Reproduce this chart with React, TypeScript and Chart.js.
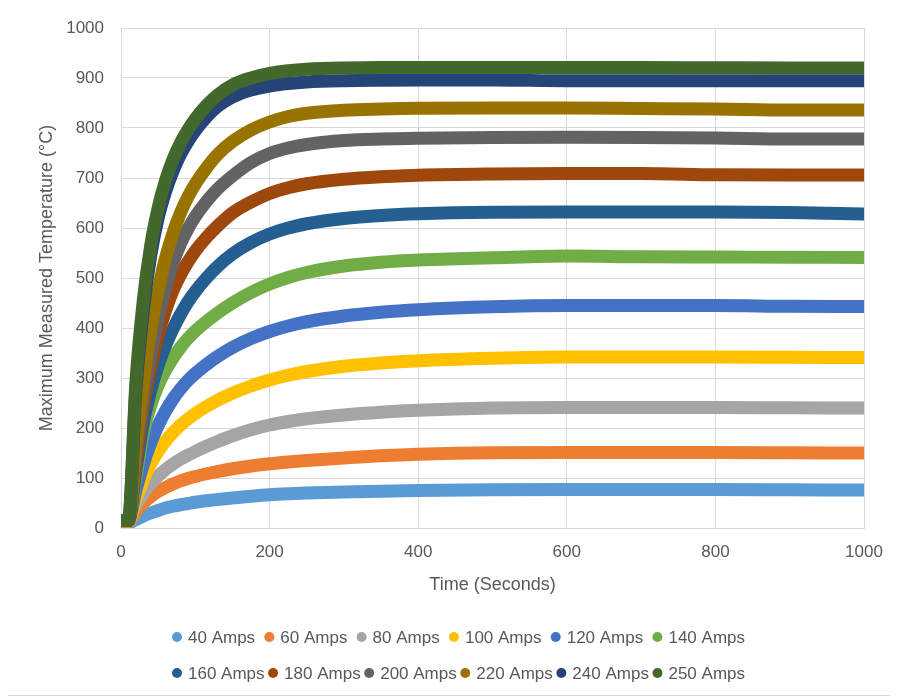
import React, { useEffect, useRef } from "react";
import { Chart, registerables } from "chart.js";

Chart.register(...registerables);

// ---- Data ----
const times = [0, 10, 20, 30, 40, 50, 60, 70, 80, 90, 100, 115, 130, 150, 175, 200, 225, 250, 300, 350, 400, 500, 600, 700, 800, 900, 1000];

const seriesLabels = ["40 Amps", "60 Amps", "80 Amps", "100 Amps", "120 Amps", "140 Amps", "160 Amps", "180 Amps", "200 Amps", "220 Amps", "240 Amps", "250 Amps"];

const amps40 = [10, 10, 17, 24, 30, 35, 40, 43.5, 46.5, 49, 51.5, 54.5, 57, 60, 63.5, 66.5, 68.5, 70, 72, 73.5, 75, 76.5, 77, 77, 77, 76.5, 76];
const amps60 = [12, 12, 32, 50, 63, 73, 81, 88, 94, 99, 103, 108.5, 113, 118.5, 124, 128.5, 132, 135, 140, 144.5, 147.5, 150.5, 151, 151, 151, 150.5, 150];
const amps80 = [15, 15, 45, 70, 89, 104, 117, 128, 137.5, 145.5, 153, 163.5, 173, 184.5, 196.5, 206, 213, 218.5, 226, 231.5, 235.5, 240, 241, 241, 241, 240.5, 240];
const amps100 = [15, 15, 57, 96, 128, 153, 174, 191, 205.5, 218, 229, 243, 255.5, 269.5, 284, 296, 305.5, 313, 323.5, 330, 334.5, 339.5, 342, 342, 342, 341.5, 341];
const amps120 = [15, 15, 75, 127, 170, 205, 234, 258, 278, 295, 309, 327, 343, 361, 379, 393, 404, 412.5, 424, 431.5, 436.5, 442.5, 445, 445, 445, 443.5, 443];
const amps140 = [15, 15, 100, 190, 245, 285, 315, 340, 361, 379, 394, 413, 430, 450, 471, 488, 501, 511, 524, 531.5, 536, 540.5, 544, 542.5, 542, 541.5, 541];
const amps160 = [15, 15, 115, 210, 275, 325, 365, 398, 427, 452, 473, 500, 523, 548, 571, 588, 600, 608.5, 619, 625, 628.5, 631.5, 632, 632, 632, 631, 628];
const amps180 = [15, 15, 130, 240, 320, 385, 435, 475, 506, 532, 554, 581, 604, 630, 652, 669, 680.5, 688.5, 697.5, 702.5, 705.5, 708, 709, 709, 706.5, 706, 706];
const amps200 = [15, 15, 145, 260, 345, 420, 480, 530, 568, 598, 623, 653, 678, 704, 731, 749, 760, 767, 775, 778, 779.5, 781, 781.5, 781, 780, 778, 778];
const amps220 = [15, 15, 165, 290, 395, 475, 540, 590, 630, 662, 688, 720, 747, 773, 796, 812, 823, 829.5, 835.5, 838, 839.5, 840, 840, 839, 838, 836, 836];
const amps240 = [15, 15, 275, 435, 545, 620, 673, 714, 747, 773, 795, 822, 843, 862, 876, 884, 889, 892, 894.5, 895.5, 896, 896, 894.5, 894.5, 894.5, 894.5, 894.5];
const amps250 = [15, 15, 290, 455, 565, 640, 695, 737, 770, 796, 818, 845, 866, 886, 900, 909, 914.5, 917.5, 920, 921, 921, 921, 921, 921, 920.5, 920, 920];

const seriesValues = [amps40, amps60, amps80, amps100, amps120, amps140, amps160, amps180, amps200, amps220, amps240, amps250];

const seriesColors = ["#5B9BD5", "#ED7D31", "#A5A5A5", "#FFC000", "#4472C4", "#70AD47", "#255E91", "#9E480E", "#636363", "#997300", "#264478", "#43682B"];

const xTickValues = [0, 200, 400, 600, 800, 1000];
const yTickValues = [0, 100, 200, 300, 400, 500, 600, 700, 800, 900, 1000];

const xTitle = "Time (Seconds)";
const yTitle = "Maximum Measured Temperature (°C)";

const FONT = "'Liberation Sans', Arial, sans-serif";
const TEXT = "#595959";
const GRID = "#d9d9d9";

const legendRows = [
  [0, 1, 2, 3, 4, 5],
  [6, 7, 8, 9, 10, 11],
];

const legendPlugin = {
  id: "excelLegend",
  afterDraw(chart: any) {
    const ctx = chart.ctx as CanvasRenderingContext2D;
    const left = 164;
    const right = 737;
    const rowY = [630, 666];
    const r = 5;
    ctx.save();
    ctx.font = `17px ${FONT}`;
    ctx.textBaseline = "middle";
    ctx.textAlign = "left";
    legendRows.forEach((row, ri) => {
      const widths = row.map((i) => 2 * r + 6 + ctx.measureText(seriesLabels[i]).width);
      const total = widths.reduce((a, b) => a + b, 0);
      const gap = (right - left - total) / (row.length - 1);
      let x = left;
      row.forEach((i, k) => {
        const y = rowY[ri];
        ctx.beginPath();
        ctx.arc(x + r, y, r, 0, Math.PI * 2);
        ctx.fillStyle = seriesColors[i];
        ctx.fill();
        ctx.fillStyle = TEXT;
        ctx.fillText(seriesLabels[i], x + 2 * r + 6, y + 1);
        x += widths[k] + gap;
      });
    });
    ctx.restore();
  },
};

export default function App() {
  const ref = useRef<HTMLCanvasElement | null>(null);

  useEffect(() => {
    if (!ref.current) return;
    const datasets = seriesLabels.map((label, i) => ({
      label,
      data: times.map((t, k) => ({ x: t, y: seriesValues[i][k] })),
      borderColor: seriesColors[i],
      backgroundColor: seriesColors[i],
      borderWidth: 13,
      borderCapStyle: "round" as const,
      borderJoinStyle: "round" as const,
      pointRadius: 0,
      pointHoverRadius: 0,
      showLine: true,
      cubicInterpolationMode: "monotone" as const,
      order: seriesLabels.length - i,
    }));

    const chart = new Chart(ref.current, {
      type: "scatter",
      data: { datasets },
      options: {
        animation: false,
        responsive: false,
        maintainAspectRatio: false,
        layout: { padding: { top: 21, right: 32, bottom: 87, left: 0 } },
        plugins: {
          legend: { display: false },
          tooltip: { enabled: false },
        },
        scales: {
          x: {
            type: "linear",
            min: 0,
            max: 1000,
            afterBuildTicks: (s: any) => {
              s.ticks = xTickValues.map((v) => ({ value: v }));
            },
            afterFit: (s: any) => {
              s.height = 80;
              s.paddingLeft = 0;
              s.paddingRight = 0;
            },
            ticks: {
              color: TEXT,
              font: { family: FONT, size: 17 },
              padding: 14,
              callback: (v: any) => String(v),
            },
            grid: { color: GRID, lineWidth: 1, drawTicks: false },
            border: { color: GRID },
            title: {
              display: true,
              text: xTitle,
              color: TEXT,
              font: { family: FONT, size: 18 },
              padding: { top: 0, bottom: 12 },
            },
          },
          y: {
            type: "linear",
            min: 0,
            max: 1000,
            afterBuildTicks: (s: any) => {
              s.ticks = yTickValues.map((v) => ({ value: v }));
            },
            afterFit: (s: any) => {
              s.width = 113;
              s.paddingTop = 0;
              s.paddingBottom = 0;
            },
            ticks: {
              color: TEXT,
              font: { family: FONT, size: 17 },
              padding: 17,
              callback: (v: any) => String(v),
            },
            grid: { color: GRID, lineWidth: 1, drawTicks: false },
            border: { color: GRID },
            title: {
              display: true,
              text: yTitle,
              color: TEXT,
              font: { family: FONT, size: 18 },
              padding: { top: 28, bottom: 0 },
            },
          },
        },
      },
      plugins: [legendPlugin],
    });
    return () => chart.destroy();
  }, []);

  return (
    <div
      style={{
        position: "relative",
        width: 890,
        height: 690,
        boxSizing: "border-box",
        border: "1px solid #d9d9d9",
        margin: "-2px 0 0 -1px",
        background: "#fff",
      }}
    >
      <canvas ref={ref} width={888} height={688} style={{ display: "block" }} />
    </div>
  );
}
